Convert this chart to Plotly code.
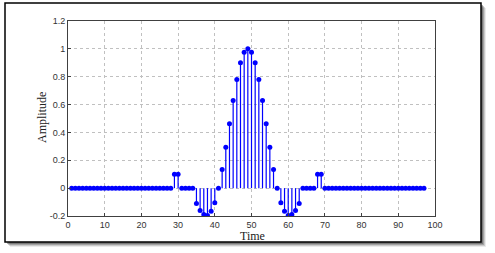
import plotly.graph_objects as go

time = list(range(1, 98))
amp_center = [0.1, 0.1, 0, 0, 0, 0, -0.11, -0.16, -0.19, -0.196, -0.165, -0.105, 0,
              0.134, 0.294, 0.462, 0.63, 0.78, 0.9, 0.976, 1.0, 0.976, 0.9, 0.78, 0.63,
              0.462, 0.294, 0.134, 0, -0.105, -0.165, -0.196, -0.19, -0.16, -0.11,
              0, 0, 0, 0, 0.1, 0.1]
amplitude = [0] * 28 + amp_center + [0] * 28

xticks = list(range(0, 101, 10))
yticks = [-0.2, 0, 0.2, 0.4, 0.6, 0.8, 1.0, 1.2]
ytick_text = ["-0.2", "0", "0.2", "0.4", "0.6", "0.8", "1", "1.2"]

BLUE = "#0000FF"

sx, sy = [], []
for t, a in zip(time, amplitude):
    sx += [t, t, None]
    sy += [0, a, None]

fig = go.Figure()
fig.add_trace(go.Scatter(x=sx, y=sy, mode="lines", line=dict(color=BLUE, width=1.2),
                         hoverinfo="skip", showlegend=False))
fig.add_trace(go.Scatter(x=time, y=amplitude, mode="markers",
                         marker=dict(color=BLUE, size=5, line=dict(width=0)),
                         showlegend=False))

W, H = 495, 253
L, R, T, B = 68, 60, 21, 37
pw, ph = W - L - R, H - T - B


def px2paper(x, y):
    return (x - L) / pw, (H - B - y) / ph


shapes = []
# shadow
for off, op in [(5, 0.10), (4, 0.18), (3, 0.28), (2, 0.4)]:
    x0, y0 = px2paper(5 + off, 3 + off)
    x1, y1 = px2paper(481 + off, 242 + off)
    shapes.append(dict(type="rect", xref="paper", yref="paper", x0=x0, y0=y1, x1=x1, y1=y0,
                       line=dict(width=0), fillcolor=f"rgba(60,60,60,{op})", layer="below"))
x0, y0 = px2paper(5, 3)
x1, y1 = px2paper(481, 242)
shapes.append(dict(type="rect", xref="paper", yref="paper", x0=x0, y0=y1, x1=x1, y1=y0,
                   line=dict(width=1.5, color="black"), fillcolor="white", layer="below"))

title_font = dict(family="Liberation Serif, Times New Roman", size=12, color="#222222")
tx, ty = px2paper(252, 228)
ax_, ay_ = px2paper(42, 118)
annotations = [
    dict(text="Time", xref="paper", yref="paper", x=tx, y=ty, showarrow=False,
         xanchor="center", yanchor="top", font=title_font, borderpad=0),
    dict(text="Amplitude", xref="paper", yref="paper", x=ax_, y=ay_, showarrow=False,
         xanchor="center", yanchor="middle", textangle=-90, font=title_font),
]

axis_common = dict(showline=True, linecolor="#404040", linewidth=1, mirror=True,
                   showgrid=True, gridcolor="#c0c0c0", griddash="dot", gridwidth=1,
                   zeroline=False, ticks="inside", ticklen=3, tickcolor="#404040",
                   tickfont=dict(family="Liberation Sans, Arial", size=9, color="#333333"))

fig.update_layout(
    width=W, height=H,
    margin=dict(l=L, r=R, t=T, b=B),
    paper_bgcolor="white", plot_bgcolor="rgba(0,0,0,0)",
    shapes=shapes,
    annotations=annotations,
    xaxis=dict(range=[0, 100], tickvals=xticks, ticklabelstandoff=0, **axis_common),
    yaxis=dict(range=[-0.2, 1.2], tickvals=yticks, ticktext=ytick_text, **axis_common),
)

fig.write_html("out.html", config={"displayModeBar": False},
               post_script="document.body.style.margin='0';")
